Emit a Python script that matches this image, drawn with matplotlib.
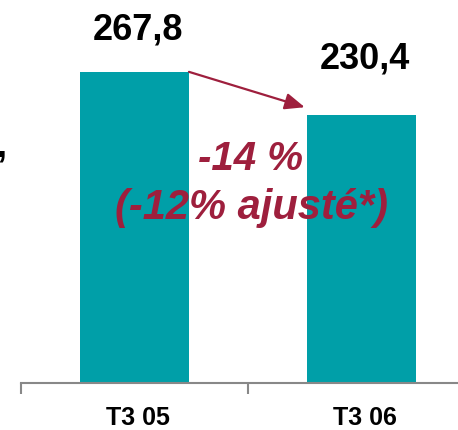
import matplotlib
matplotlib.use("Agg")
import matplotlib.pyplot as plt
import matplotlib.transforms as mtransforms

categories = ["T3 05", "T3 06"]
values = [267.8, 230.4]
value_labels = ["267,8", "230,4"]
change_line1 = "-14 %"
change_line2 = "(-12% ajusté*)"

TEAL = "#009FA8"
RED = "#9E1F3D"
W, H = 458, 430

plt.rcParams['font.family'] = ['Liberation Sans', 'DejaVu Sans']
fig = plt.figure(figsize=(W / 100, H / 100), dpi=100)

k = 1.16  # px per unit
ymax = 300
left_px, bottom_px, width_px = 21, 382.5, 454
ax = fig.add_axes([left_px / W, 1 - bottom_px / H, width_px / W, ymax * k / H])

x = list(range(len(categories)))
ax.bar(x, values, width=0.48, color=TEAL, zorder=2)
ax.set_xlim(-0.5, 1.5)
ax.set_ylim(0, ymax)

for s in ["top", "right", "left"]:
    ax.spines[s].set_visible(False)
ax.spines["bottom"].set_color("#888888")
ax.spines["bottom"].set_linewidth(1.5)
ax.set_yticks([])
ax.set_xticks(x)
ax.set_xticklabels(categories, fontsize=18, fontweight="bold")
ax.tick_params(axis="x", which="major", length=0, pad=17)
shift = mtransforms.ScaledTranslation(3 / 100, 0, fig.dpi_scale_trans)
for lbl in ax.get_xticklabels():
    lbl.set_transform(lbl.get_transform() + shift)
ax.set_xticks([-0.5, 0.5, 1.5], minor=True)
ax.tick_params(axis="x", which="minor", length=8, width=1.5, color="#888888", direction="out")

label_offsets_px = [32, 47]
for xi, v, lab, off in zip(x, values, value_labels, label_offsets_px):
    ax.annotate(lab, xy=(xi + 0.015, v), xytext=(0, off), textcoords="offset pixels",
                ha="center", va="baseline", fontsize=26, fontweight="bold", color="black")

ax.annotate("", xy=(1 - 0.24 - 0.01, values[1] + 8 / k), xytext=(0.24, values[0]),
            arrowprops=dict(arrowstyle="-|>,head_length=1.2,head_width=0.5", color=RED, lw=1.6,
                            shrinkA=0, shrinkB=0), zorder=3)

fig.text(250 / W, 1 - 159 / H, change_line1, ha="center", va="center", fontsize=29,
         fontweight="bold", fontstyle="italic", color=RED)
fig.text(252 / W, 1 - 208 / H, change_line2, ha="center", va="center", fontsize=30,
         fontweight="bold", fontstyle="italic", color=RED)

fig.text(-3 / W, 1 - 156 / H, ",", ha="left", va="baseline", fontsize=26,
         fontweight="bold", color="black")

fig.savefig("out.png", dpi=100)
